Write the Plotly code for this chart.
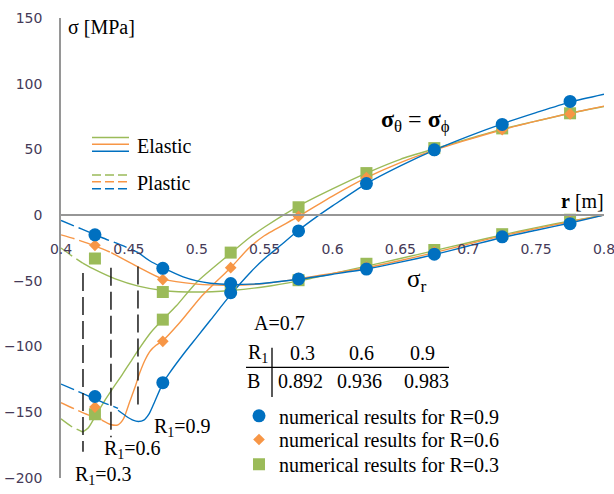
import plotly.graph_objects as go

# ---------------------------------------------------------------- data
# radial positions of the numerical results [m]
r_num = [0.425, 0.475, 0.525, 0.575, 0.625, 0.675, 0.725, 0.775]

# numerical hoop stress sigma_theta = sigma_phi [MPa]
st_num_09 = [-138, -127.5, -59, -12, 24, 49.7, 69, 86.5]
st_num_06 = [-146, -96, -40, -1, 28.5, 49, 65, 77]
st_num_03 = [-151.5, -79.5, -28.5, 6, 32, 51, 66, 77.5]

# numerical radial stress sigma_r [MPa]
sr_num_09 = [-15, -40.5, -52, -48.5, -41, -29.7, -16.5, -6.5]
sr_num_06 = [-23, -49, -53, -48, -39.5, -28, -15.5, -5]
sr_num_03 = [-33, -58.5, -55, -49.5, -37, -26.5, -14.5, -3.5]

# analytical solution, R1 = 0.9
r_sr_pl_09 = [0.400, 0.415, 0.430, 0.445, 0.457]
sr_pl_09 = [-4, -10.5, -17, -23, -28.5]
r_sr_el_09 = [0.457, 0.465, 0.475, 0.490, 0.500, 0.510, 0.525, 0.540, 0.550,
              0.575, 0.600, 0.625, 0.650, 0.675, 0.700, 0.725, 0.750, 0.775, 0.800]
sr_el_09 = [-28.5, -34.5, -40, -47, -50, -51.8, -52.8, -52.5, -51.8,
            -48.8, -45, -41, -35.8, -30, -23.5, -17, -11.5, -6, 0]
r_st_pl_09 = [0.400, 0.410, 0.420, 0.430, 0.442]
st_pl_09 = [-128.5, -133, -137.5, -142, -147]
r_st_el_09 = [0.442, 0.448, 0.453, 0.457, 0.461, 0.465, 0.469, 0.475, 0.480,
              0.490, 0.500, 0.510, 0.525, 0.540, 0.550, 0.560, 0.575, 0.588,
              0.600, 0.625, 0.650, 0.675, 0.700, 0.725, 0.750, 0.775, 0.800]
st_el_09 = [-148.5, -153, -156, -157, -156, -151, -142, -128, -120,
            -106, -93, -80, -60.5, -43, -33, -24.5, -11.5, -1.5,
            7, 24, 37.5, 49.5, 60, 69.5, 78, 86, 92]

# analytical solution, R1 = 0.6
r_sr_pl_06 = [0.400, 0.410, 0.420, 0.430, 0.437]
sr_pl_06 = [-15, -18, -21.5, -25.5, -28.5]
r_sr_el_06 = [0.437, 0.457, 0.475, 0.500, 0.525, 0.550, 0.575, 0.600, 0.625,
              0.650, 0.675, 0.700, 0.725, 0.750, 0.775, 0.800]
sr_el_06 = [-28.5, -39.5, -48.5, -52.5, -53.3, -52, -48.5, -44.3, -40,
            -34.5, -28.5, -22, -15.8, -10.3, -5, 0]
r_st_pl_06 = [0.400, 0.410, 0.420, 0.430]
st_pl_06 = [-142.7, -147.5, -152, -155.5]
r_st_el_06 = [0.430, 0.437, 0.442, 0.446, 0.4508, 0.4545, 0.458, 0.462, 0.466,
              0.470, 0.475, 0.4877, 0.5037, 0.515, 0.525, 0.539, 0.550,
              0.575, 0.600, 0.625, 0.650, 0.675, 0.700, 0.725, 0.750, 0.775, 0.800]
st_el_06 = [-156, -159.5, -159.5, -155, -141.5, -131, -120, -110, -103,
            -99, -95.5, -81.5, -61.5, -50, -40, -24.5, -15.5,
            -1, 14.5, 28.5, 40, 49.5, 57.5, 65, 71.5, 77.5, 83]

# analytical solution, R1 = 0.3
r_sr_pl_03 = [0.400, 0.408, 0.416]
sr_pl_03 = [-25, -31, -36.5]
r_sr_el_03 = [0.416, 0.425, 0.440, 0.457, 0.475, 0.500, 0.525, 0.550, 0.575,
              0.600, 0.625, 0.650, 0.675, 0.700, 0.725, 0.750, 0.775, 0.800]
sr_el_03 = [-36.5, -41.5, -48.5, -54, -57.3, -58.5, -57.3, -54.5, -50,
            -44.5, -38.8, -33, -27, -21, -15, -9.5, -4.5, 0]
r_st_pl_03 = [0.400, 0.408, 0.416]
st_pl_03 = [-155, -161, -165]
r_st_el_03 = [0.416, 0.420, 0.425, 0.432, 0.440, 0.445, 0.451, 0.458, 0.466,
              0.475, 0.485, 0.500, 0.525, 0.539, 0.550, 0.576, 0.600, 0.625,
              0.650, 0.675, 0.700, 0.725, 0.750, 0.775, 0.800]
st_el_03 = [-165, -162, -153.5, -141.5, -129, -121.5, -112, -101, -89.5,
            -79.5, -69, -51, -29, -17, -9, 7.5, 20, 32,
            42.5, 50.5, 58, 65.5, 71.5, 77.5, 82.7]

# plastic zone radii and the extent of their marker lines
r1_values = [0.3, 0.6, 0.9]
r_plastic = [0.4162, 0.4368, 0.4567]
rp_line_top = [-44, -40, -39]
rp_line_bottom = [-180, -169, -145]

# parameter table
a_value = 0.7
b_values = [0.892, 0.936, 0.983]

# axes
x_range = [0.4, 0.8]
y_range = [-200, 150]
y_ticks = [-200, -150, -100, -50, 0, 50, 100, 150]

# ---------------------------------------------------------------- style
BLUE = "#0070C0"
ORANGE = "#F79646"
GREEN = "#9BBB59"
SERIF = "Liberation Serif"
SANS = "DejaVu Sans"
TICK_COLOR = "#453a58"
AXIS_COLOR = "#969696"

W, H = 614, 494
ML, MR, MT, MB = 61, 10, 18, 10
PW = W - ML - MR
PH = H - MT - MB


def px(x):
    return (x - ML) / PW


def py(y):
    return (H - MB - y) / PH


fig = go.Figure()


def curve(r, s, color, dash="solid"):
    fig.add_trace(go.Scatter(
        x=r, y=s, mode="lines",
        line=dict(color=color, width=1.4, shape="spline", smoothing=0.7, dash=dash),
        showlegend=False, hoverinfo="skip"))


PL_DASH = "14px,5px"
series = [
    (GREEN, r_sr_pl_03, sr_pl_03, r_sr_el_03, sr_el_03, r_st_pl_03, st_pl_03, r_st_el_03, st_el_03),
    (ORANGE, r_sr_pl_06, sr_pl_06, r_sr_el_06, sr_el_06, r_st_pl_06, st_pl_06, r_st_el_06, st_el_06),
    (BLUE, r_sr_pl_09, sr_pl_09, r_sr_el_09, sr_el_09, r_st_pl_09, st_pl_09, r_st_el_09, st_el_09),
]
for color, rsp, srp, rse, sre, rtp, stp, rte, ste in series:
    curve(rsp, srp, color, PL_DASH)
    curve(rse, sre, color)
    curve(rtp, stp, color, PL_DASH)
    curve(rte, ste, color)

# plastic radius markers
for rp, top, bot in zip(r_plastic, rp_line_top, rp_line_bottom):
    fig.add_trace(go.Scatter(
        x=[rp, rp], y=[top, bot], mode="lines",
        line=dict(color="#1a1a1a", width=1.5, dash="18px,6px"),
        showlegend=False, hoverinfo="skip"))

# numerical results
markers = [
    (GREEN, "square", 12, st_num_03, sr_num_03, "numerical results for R=0.3", "legend3"),
    (ORANGE, "diamond", 9, st_num_06, sr_num_06, "numerical results for R=0.6", "legend2"),
    (BLUE, "circle", 13, st_num_09, sr_num_09, "numerical results for R=0.9", "legend"),
]
for color, sym, size, st, sr, name, leg in markers:
    fig.add_trace(go.Scatter(
        x=r_num + r_num, y=st + sr, mode="markers",
        marker=dict(color=color, symbol=sym, size=size, line=dict(width=0)),
        name=name, legend=leg, showlegend=True, hoverinfo="skip"))

# ---------------------------------------------------------------- text
ann = []


def text(x, y, s, size=20, xanchor="left", family=SERIF, color="black"):
    ann.append(dict(x=px(x), y=py(y), xref="paper", yref="paper", text=s,
                    showarrow=False, xanchor=xanchor, yanchor="middle",
                    font=dict(family=family, size=size, color=color)))


text(66, 27, "σ [MPa]")
text(606, 203, "<b>r</b> [m]", xanchor="right")
text(415, 122, "<b>σ</b><sub>θ</sub> = <b>σ</b><sub>ϕ</sub>", size=24, xanchor="center")
text(416, 284, "σ<sub>r</sub>", size=25, xanchor="center")
text(135, 148, "Elastic")
text(135, 185, "Plastic")
text(252, 327, f"A={a_value}")
text(246, 358, "R<sub>1</sub>")
text(245, 386, "B")
for cx, r1, b in zip([302, 361, 422], r1_values, b_values):
    text(cx, 357, f"{r1}", xanchor="center")
    text(cx - 2 if cx < 400 else cx + 4, 386, f"{b:.3f}", xanchor="center")
for lx, ly, r1 in zip([73, 102, 152], [481, 455, 433], r1_values):
    text(lx, ly, f"R<sub>1</sub>={r1}")

# ---------------------------------------------------------------- shapes
shapes = []


def hline(x0, x1, y, color, dash="solid", width=1.5):
    shapes.append(dict(type="line", xref="paper", yref="paper",
                       x0=px(x0), x1=px(x1), y0=py(y), y1=py(y),
                       line=dict(color=color, width=width, dash=dash)))


# Elastic / Plastic key
for y, c in zip([139, 146, 153], [GREEN, ORANGE, BLUE]):
    hline(92, 129, y, c)
for y, c in zip([177, 184, 191], [GREEN, ORANGE, BLUE]):
    hline(92, 129, y, c, dash="9px,4px")

# table rules
hline(246, 449, 372, "black", width=1.3)
shapes.append(dict(type="line", xref="paper", yref="paper",
                   x0=px(272), x1=px(272), y0=py(352), y1=py(402),
                   line=dict(color="black", width=1.3)))

# ---------------------------------------------------------------- layout
leg_common = dict(xanchor="left", yanchor="middle", bgcolor="rgba(0,0,0,0)",
                  borderwidth=0, itemwidth=30,
                  font=dict(family=SERIF, size=20, color="black"))

fig.update_layout(
    width=W, height=H,
    margin=dict(l=ML, r=MR, t=MT, b=MB, pad=0),
    plot_bgcolor="white", paper_bgcolor="white",
    annotations=ann, shapes=shapes,
    legend=dict(x=px(239), y=py(421), **leg_common),
    legend2=dict(x=px(239), y=py(445), **leg_common),
    legend3=dict(x=px(239), y=py(470), **leg_common),
    xaxis=dict(range=x_range, tick0=0.4, dtick=0.05, anchor="free",
               position=(0 - y_range[0]) / (y_range[1] - y_range[0]),
               showline=True, linecolor=AXIS_COLOR, linewidth=1.5,
               showgrid=False, zeroline=False, ticks="", ticklabelstandoff=21,
               ticklabeloverflow="allow",
               tickfont=dict(family=SANS, size=14, color=TICK_COLOR),
               automargin=False),
    yaxis=dict(range=y_range, tickvals=y_ticks,
               showline=True, linecolor=AXIS_COLOR, linewidth=1.5,
               showgrid=False, zeroline=False, ticks="", ticklabelstandoff=14,
               tickfont=dict(family=SANS, size=14, color=TICK_COLOR),
               automargin=False),
)

fig.write_html("out.html")
